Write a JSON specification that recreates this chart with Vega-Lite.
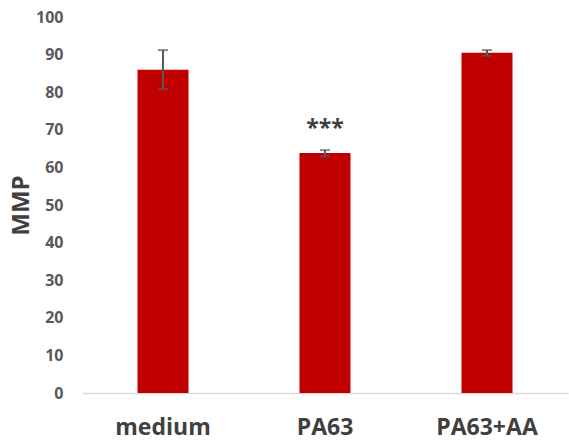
{
  "$schema": "https://vega.github.io/schema/vega-lite/v6.json",
  "width": 486,
  "height": 376,
  "autosize": "none",
  "padding": {"left": 82, "top": 17, "right": 1, "bottom": 48},
  "background": "white",
  "config": {"view": {"stroke": null}, "font": "Open Sans",
    "axisY": {"tickCount": 10, "labelOverlap": false, "labelFontSize": 16, "labelFontWeight": "bold", "labelColor": "#595959", "labelPadding": 19, "grid": false, "ticks": false, "domain": false,
      "titleFontSize": 24, "titleFontWeight": "bold", "titleColor": "#404040", "titlePadding": 2}},
  "data": {"values": [
    {"group": "medium", "mean": 86.0, "lo": 80.8, "hi": 91.2, "sig": ""},
    {"group": "PA63", "mean": 63.8, "lo": 62.9, "hi": 64.6, "sig": "***"},
    {"group": "PA63+AA", "mean": 90.5, "lo": 89.7, "hi": 91.2, "sig": ""}
  ]},
  "encoding": {
    "x": {"field": "group", "type": "nominal", "sort": null,
      "scale": {"paddingInner": 0.685, "paddingOuter": 0.3425},
      "axis": {"title": null, "labelAngle": 0, "labelFontSize": 23, "labelFontWeight": "bold", "labelColor": "#404040", "labelPadding": 23, "ticks": false, "domainColor": "#d9d9d9", "domainWidth": 1.5}}
  },
  "layer": [
    {"mark": {"type": "bar", "color": "#C00000"},
     "encoding": {"y": {"field": "mean", "type": "quantitative",
       "scale": {"domain": [0, 100]},
       "axis": {"title": "MMP", "tickCount": 10}}}},
    {"mark": {"type": "rule", "color": "#595959", "strokeWidth": 2},
     "encoding": {"y": {"field": "lo", "type": "quantitative", "title": "MMP"}, "y2": {"field": "hi"}}},
    {"mark": {"type": "tick", "color": "#595959", "size": 10, "thickness": 2},
     "encoding": {"y": {"field": "lo", "type": "quantitative", "title": "MMP"}}},
    {"mark": {"type": "tick", "color": "#595959", "size": 10, "thickness": 2},
     "encoding": {"y": {"field": "hi", "type": "quantitative", "title": "MMP"}}},
    {"mark": {"type": "text", "fontSize": 23, "fontWeight": "bold", "color": "#404040", "baseline": "middle", "dy": 5},
     "encoding": {"y": {"datum": 71.5, "type": "quantitative", "title": "MMP"}, "text": {"field": "sig"}}}
  ]
}
